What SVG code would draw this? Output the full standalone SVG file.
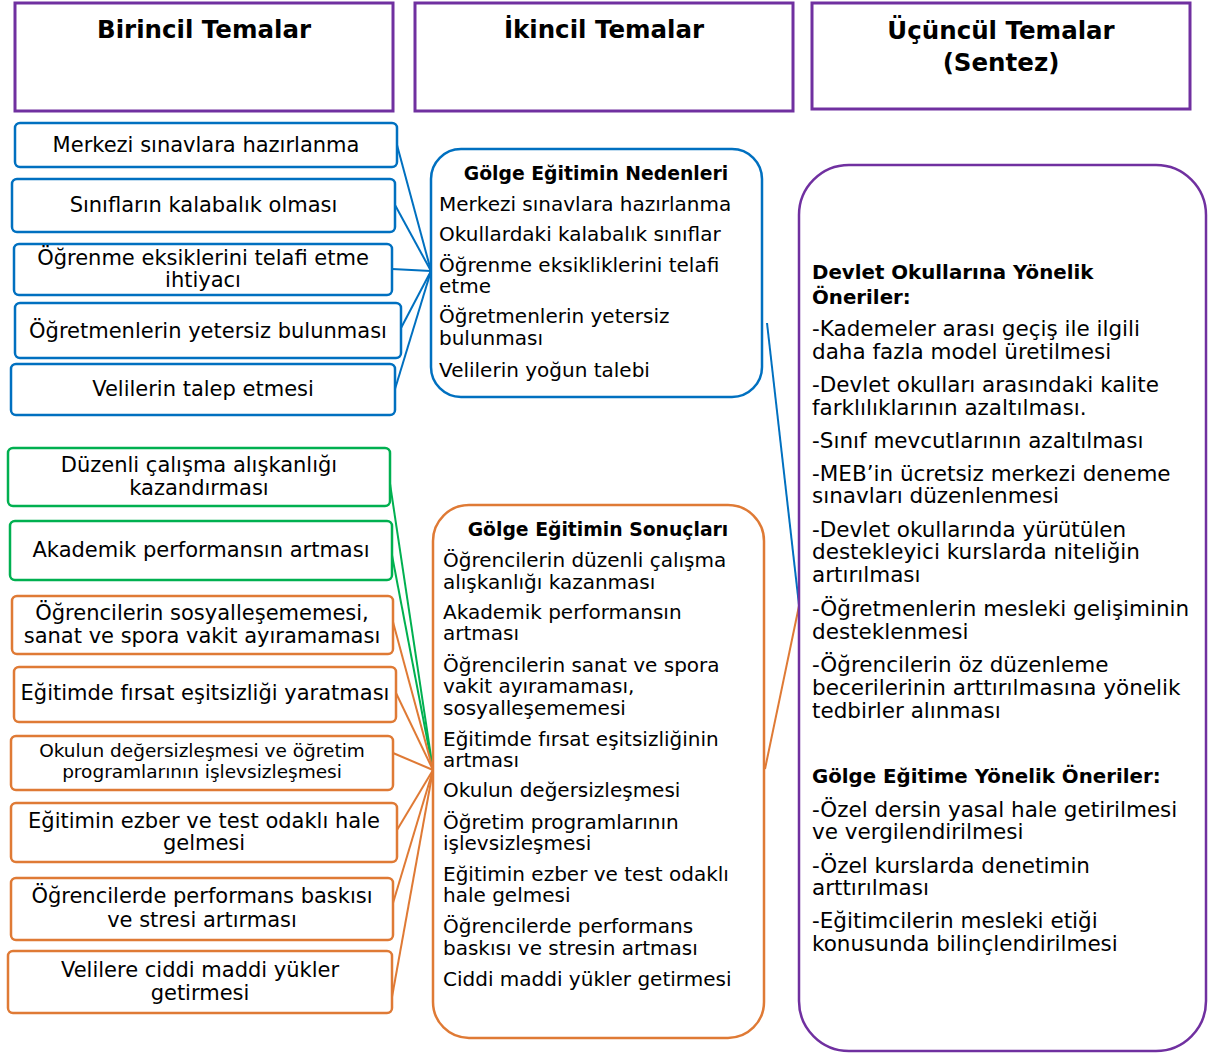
<svg xmlns="http://www.w3.org/2000/svg" width="1208" height="1054" viewBox="0 0 1208 1054">
<style>
.hdr{fill:#fff;stroke:#7030A0;stroke-width:3}
.bb{fill:#fff;stroke:#0070C0;stroke-width:2.5}
.gb{fill:#fff;stroke:#00B050;stroke-width:2.5}
.ob{fill:#fff;stroke:#DF7A35;stroke-width:2.5}
.pb{fill:#fff;stroke:#7030A0;stroke-width:2.5}
text{font-family:"DejaVu Sans","Liberation Sans",sans-serif;fill:#000}
.h{font-size:24.5px;font-weight:bold;text-anchor:middle}
.l{font-size:21px;text-anchor:middle}
.ls{font-size:18.5px;text-anchor:middle}
.m{font-size:20px}
.mt{font-size:18.8px;font-weight:bold;text-anchor:middle}
.r{font-size:21.5px}
.rt{font-size:19.8px;font-weight:bold}
.cb{stroke:#0070C0;stroke-width:2;fill:none}
.cg{stroke:#00B050;stroke-width:2;fill:none}
.co{stroke:#DF7A35;stroke-width:2;fill:none}
</style>

<g id="connectors">
<line class="cb" x1="397" y1="145" x2="431" y2="271"/>
<line class="cb" x1="395" y1="205" x2="431" y2="271"/>
<line class="cb" x1="392" y1="269" x2="431" y2="271"/>
<line class="cb" x1="401" y1="328" x2="431" y2="271"/>
<line class="cb" x1="395" y1="389" x2="431" y2="271"/>
<line class="cb" x1="767" y1="323" x2="799" y2="605"/>
<line class="cg" x1="389" y1="477" x2="433" y2="770"/>
<line class="cg" x1="391" y1="550" x2="433" y2="770"/>
<line class="co" x1="393" y1="622" x2="433" y2="770"/>
<line class="co" x1="396" y1="693" x2="433" y2="770"/>
<line class="co" x1="393" y1="753" x2="433" y2="770"/>
<line class="co" x1="397" y1="830" x2="433" y2="770"/>
<line class="co" x1="393" y1="903" x2="433" y2="770"/>
<line class="co" x1="392" y1="997" x2="433" y2="770"/>
<line class="co" x1="765" y1="769" x2="799" y2="606"/>
</g>

<g id="hdr1"><rect class="hdr" x="15" y="3" width="378" height="108"/><text class="h" x="204" y="38">Birincil Temalar</text></g>
<g id="hdr2"><rect class="hdr" x="415" y="3" width="378" height="108"/><text class="h" x="604" y="38">İkincil Temalar</text></g>
<g id="hdr3"><rect class="hdr" x="812" y="3" width="378" height="106"/><text class="h" x="1001" y="39">Üçüncül Temalar</text><text class="h" x="1001" y="71">(Sentez)</text></g>

<g id="p1"><rect class="bb" x="15" y="123" width="382" height="44" rx="5"/><text class="l" x="206" y="152">Merkezi sınavlara hazırlanma</text></g>
<g id="p2"><rect class="bb" x="12" y="179" width="383" height="53" rx="5"/><text class="l" x="203.5" y="212">Sınıfların kalabalık olması</text></g>
<g id="p3"><rect class="bb" x="14" y="244" width="378" height="51" rx="5"/><text class="l" x="203" y="265">Öğrenme eksiklerini telafi etme</text><text class="l" x="203" y="287">ihtiyacı</text></g>
<g id="p4"><rect class="bb" x="15" y="303" width="386" height="55" rx="5"/><text class="l" x="208" y="338">Öğretmenlerin yetersiz bulunması</text></g>
<g id="p5"><rect class="bb" x="11" y="364" width="384" height="51" rx="5"/><text class="l" x="203" y="396">Velilerin talep etmesi</text></g>

<g id="p6"><rect class="gb" x="8" y="448" width="382" height="58" rx="5"/><text class="l" x="199" y="472">Düzenli çalışma alışkanlığı</text><text class="l" x="199" y="495">kazandırması</text></g>
<g id="p7"><rect class="gb" x="10" y="521" width="382" height="59" rx="5"/><text class="l" x="201" y="557">Akademik performansın artması</text></g>
<g id="p8"><rect class="ob" x="12" y="596" width="381" height="58" rx="5"/><text class="l" x="202" y="620">Öğrencilerin sosyalleşememesi,</text><text class="l" x="202" y="643">sanat ve spora vakit ayıramaması</text></g>
<g id="p9"><rect class="ob" x="14" y="667" width="382" height="55" rx="5"/><text class="l" x="205" y="700">Eğitimde fırsat eşitsizliği yaratması</text></g>
<g id="p10"><rect class="ob" x="11" y="736" width="382" height="54" rx="5"/><text class="ls" x="202" y="757">Okulun değersizleşmesi ve öğretim</text><text class="ls" x="202" y="778">programlarının işlevsizleşmesi</text></g>
<g id="p11"><rect class="ob" x="11" y="803" width="386" height="59" rx="5"/><text class="l" x="204" y="828">Eğitimin ezber ve test odaklı hale</text><text class="l" x="204" y="850">gelmesi</text></g>
<g id="p12"><rect class="ob" x="11" y="878" width="382" height="62" rx="5"/><text class="l" x="202" y="903">Öğrencilerde performans baskısı</text><text class="l" x="202" y="927">ve stresi artırması</text></g>
<g id="p13"><rect class="ob" x="8" y="951" width="384" height="62" rx="5"/><text class="l" x="200" y="977">Velilere ciddi maddi yükler</text><text class="l" x="200" y="1000">getirmesi</text></g>

<g id="s1"><rect class="bb" x="431" y="149" width="331" height="248" rx="30"/>
<text class="mt" x="596" y="180">Gölge Eğitimin Nedenleri</text>
<text class="m" x="439" y="211">Merkezi sınavlara hazırlanma</text>
<text class="m" x="439" y="241">Okullardaki kalabalık sınıflar</text>
<text class="m" x="439" y="272">Öğrenme eksikliklerini telafi</text>
<text class="m" x="439" y="293">etme</text>
<text class="m" x="439" y="323">Öğretmenlerin yetersiz</text>
<text class="m" x="439" y="345">bulunması</text>
<text class="m" x="439" y="377">Velilerin yoğun talebi</text>
</g>

<g id="s2"><rect class="ob" x="433" y="505" width="331" height="533" rx="36"/>
<text class="mt" x="598" y="536">Gölge Eğitimin Sonuçları</text>
<text class="m" x="443" y="567">Öğrencilerin düzenli çalışma</text>
<text class="m" x="443" y="589">alışkanlığı kazanması</text>
<text class="m" x="443" y="619">Akademik performansın</text>
<text class="m" x="443" y="640">artması</text>
<text class="m" x="443" y="672">Öğrencilerin sanat ve spora</text>
<text class="m" x="443" y="693">vakit ayıramaması,</text>
<text class="m" x="443" y="715">sosyalleşememesi</text>
<text class="m" x="443" y="746">Eğitimde fırsat eşitsizliğinin</text>
<text class="m" x="443" y="767">artması</text>
<text class="m" x="443" y="797">Okulun değersizleşmesi</text>
<text class="m" x="443" y="829">Öğretim programlarının</text>
<text class="m" x="443" y="850">işlevsizleşmesi</text>
<text class="m" x="443" y="881">Eğitimin ezber ve test odaklı</text>
<text class="m" x="443" y="902">hale gelmesi</text>
<text class="m" x="443" y="933">Öğrencilerde performans</text>
<text class="m" x="443" y="955">baskısı ve stresin artması</text>
<text class="m" x="443" y="986">Ciddi maddi yükler getirmesi</text>
</g>

<g id="t1"><rect class="pb" x="799" y="165" width="407" height="886" rx="50"/>
<text class="rt" x="812" y="279">Devlet Okullarına Yönelik</text>
<text class="rt" x="812" y="304">Öneriler:</text>
<text class="r" x="812" y="336">-Kademeler arası geçiş ile ilgili</text>
<text class="r" x="812" y="359">daha fazla model üretilmesi</text>
<text class="r" x="812" y="392">-Devlet okulları arasındaki kalite</text>
<text class="r" x="812" y="415">farklılıklarının azaltılması.</text>
<text class="r" x="812" y="448">-Sınıf mevcutlarının azaltılması</text>
<text class="r" x="812" y="481">-MEB’in ücretsiz merkezi deneme</text>
<text class="r" x="812" y="503">sınavları düzenlenmesi</text>
<text class="r" x="812" y="537">-Devlet okullarında yürütülen</text>
<text class="r" x="812" y="559">destekleyici kurslarda niteliğin</text>
<text class="r" x="812" y="582">artırılması</text>
<text class="r" x="812" y="616">-Öğretmenlerin mesleki gelişiminin</text>
<text class="r" x="812" y="639">desteklenmesi</text>
<text class="r" x="812" y="672">-Öğrencilerin öz düzenleme</text>
<text class="r" x="812" y="695">becerilerinin arttırılmasına yönelik</text>
<text class="r" x="812" y="718">tedbirler alınması</text>
<text class="rt" x="812" y="783">Gölge Eğitime Yönelik Öneriler:</text>
<text class="r" x="812" y="817">-Özel dersin yasal hale getirilmesi</text>
<text class="r" x="812" y="839">ve vergilendirilmesi</text>
<text class="r" x="812" y="873">-Özel kurslarda denetimin</text>
<text class="r" x="812" y="895">arttırılması</text>
<text class="r" x="812" y="928">-Eğitimcilerin mesleki etiği</text>
<text class="r" x="812" y="951">konusunda bilinçlendirilmesi</text>
</g>
</svg>
